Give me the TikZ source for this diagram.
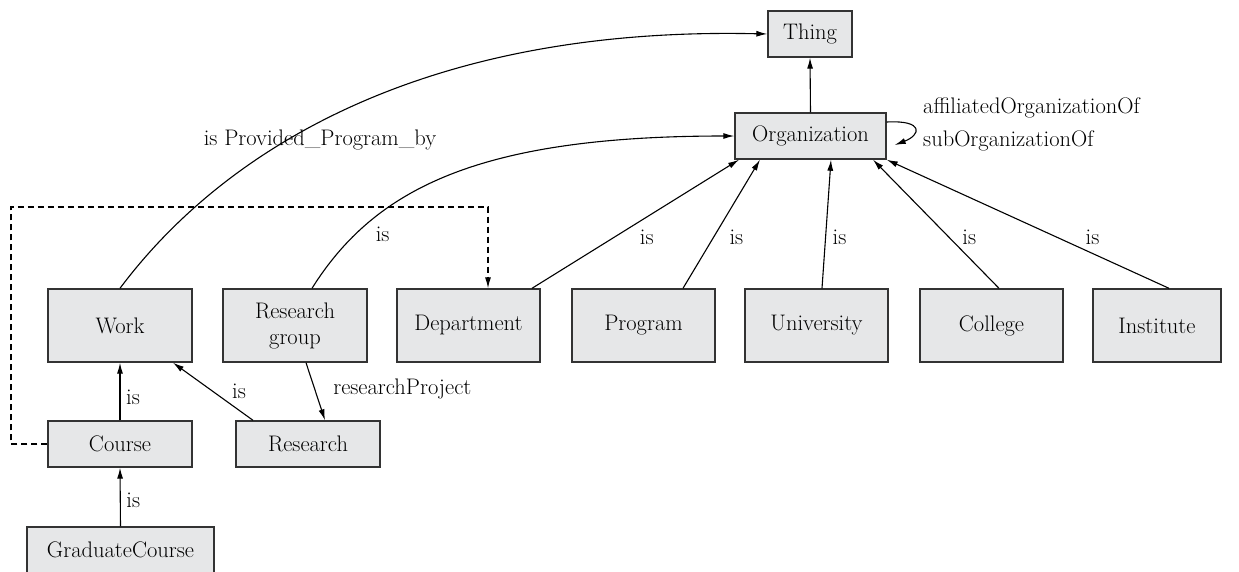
\documentclass[tikz,border=0pt]{standalone}
\usetikzlibrary{arrows.meta}
\definecolor{boxgray}{HTML}{E6E7E8}
\definecolor{edgegray}{HTML}{333333}
\newcommand\myfs{\fontsize{22.5}{26}\selectfont}
\begin{document}
\begin{tikzpicture}[x=1pt,y=-1pt,
  box/.style={draw=edgegray, line width=1.4pt, fill=boxgray, minimum height=46pt, inner sep=0pt, align=center, font=\myfs},
  tallbox/.style={box, minimum width=143pt, minimum height=73pt},
  conn/.style={line width=1.1pt, -{Latex[length=11pt,width=6pt]}},
  dashconn/.style={conn, dash pattern=on 6pt off 4pt},
  lbl/.style={font=\myfs, inner sep=0pt}]
\useasboundingbox (0,0) rectangle (1239,571);
% nodes
\node[box, minimum width=84pt] (thing) at (810,34) {Thing};
\node[box, minimum width=151pt] (org) at (810.5,136) {Organization};
\node[tallbox, minimum width=144pt] (work) at (120,325.5) {Work};
\node[tallbox, minimum width=144pt] (rgroup) at (295,325.5) {Research\\group};
\node[tallbox] (dept) at (468.5,325.5) {Department};
\node[tallbox] (prog) at (643.5,325.5) {Program};
\node[tallbox] (univ) at (816.5,325.5) {University};
\node[tallbox] (coll) at (991.5,325.5) {College};
\node[tallbox, minimum width=128pt] (inst) at (1157,325.5) {Institute};
\node[box, minimum width=144pt] (course) at (120,444) {Course};
\node[box, minimum width=144pt] (research) at (308,444) {Research};
\node[box, minimum width=187pt] (grad) at (120.5,550) {GraduateCourse};
% helper coordinates
\coordinate (dl) at (11,444);
\coordinate (dtl) at (11,207);
\coordinate (dtr) at (488,207);
% connectors
\draw[conn] (org.north) -- (thing.south);
\draw[conn] (work.north) .. controls (222,152) and (420,26) .. (thing.west);
\node[lbl] (provlbl) at (320,140) {is Provided\_Program\_by};
\draw[conn] ([xshift=17pt]rgroup.north) .. controls (375,188) and (480,136) .. (org.west)
  node[lbl, pos=0.2, xshift=27pt] {is};
\draw[conn] ([xshift=63.5pt]dept.north) -- node[lbl, pos=0.395, xshift=33pt] {is} ([xshift=-71.5pt]org.south);
\draw[conn] ([xshift=39.5pt]prog.north) -- node[lbl, pos=0.395, xshift=23pt] {is} ([xshift=-50.5pt]org.south);
\draw[conn] ([xshift=5.5pt]univ.north) -- node[lbl, pos=0.395, xshift=14pt] {is} ([xshift=20.5pt]org.south);
\draw[conn] ([xshift=7.5pt]coll.north) -- node[lbl, pos=0.395, xshift=20pt] {is} ([xshift=62.5pt]org.south);
\draw[conn] ([xshift=12pt]inst.north) -- node[lbl, pos=0.395, xshift=35pt] {is} (org.south east);
\draw[conn] ([yshift=14pt]org.east) .. controls +(38pt,2pt) and +(26pt,10pt) .. ([xshift=8pt,yshift=-9pt]org.east);
\node[lbl, anchor=west] (aff) at (923,108) {affiliatedOrganizationOf};
\node[lbl, anchor=west] (sub) at (923,141) {subOrganizationOf};
\draw[conn] (course.north) -- node[lbl, pos=0.4, xshift=13pt] {is} (work.south);
\draw[conn] (grad.north) -- node[lbl, pos=0.45, xshift=13pt] {is} (course.south);
\draw[conn] ([xshift=-55pt]research.north) -- node[lbl, midway, xshift=26pt] {is} ([xshift=53pt]work.south);
\draw[conn] ([xshift=11pt]rgroup.south) -- node[lbl, pos=0.46, anchor=west, xshift=18pt] {researchProject} ([xshift=17pt]research.north);
\draw[dashconn] (course.west) -- (dl) -- (dtl) -- (dtr) -- ([xshift=19.5pt]dept.north);
\end{tikzpicture}
\end{document}
